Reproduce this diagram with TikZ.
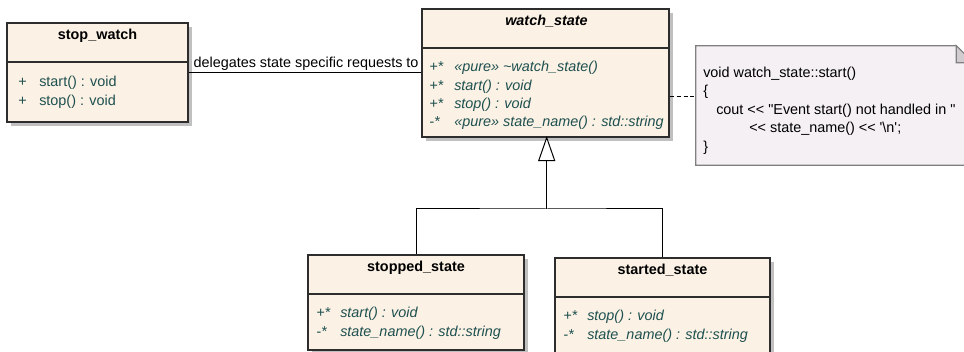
\documentclass[tikz,border=0pt]{standalone}
\usepackage{fontspec}
\setmainfont{Liberation Sans}
\usetikzlibrary{shadows}

\definecolor{classfill}{RGB}{251,241,228}
\definecolor{classline}{RGB}{45,45,45}
\definecolor{membertext}{RGB}{30,80,80}
\definecolor{notefill}{RGB}{244,240,244}
\definecolor{noteline}{RGB}{128,128,128}
\definecolor{foldfill}{RGB}{208,204,208}
\definecolor{shadowc}{RGB}{192,192,192}

% a pair of "<" characters kept apart from the TeX ligature mapping
\newcommand{\shl}{\textless\kern0pt\textless}

\tikzset{
  classbox/.style={draw=classline, line width=1pt, fill=classfill, inner sep=0pt,
    drop shadow={shadow xshift=3pt, shadow yshift=-3pt, opacity=1, fill=shadowc}},
  divider/.style={draw=classline, line width=1pt},
  ctitle/.style={anchor=base, inner sep=0pt, font=\fontsize{10.8}{13}\selectfont\bfseries},
  atitle/.style={anchor=base, inner sep=0pt, font=\fontsize{10.8}{13}\selectfont\bfseries\itshape},
  member/.style={anchor=base west, inner sep=0pt, text=membertext},
  amember/.style={member, font=\fontsize{10.8}{13}\selectfont\itshape},
  codeline/.style={anchor=base west, inner sep=0pt},
  link/.style={draw=black, line width=0.75pt},
  notelink/.style={draw=black, line width=0.75pt, dash pattern=on 3pt off 2.2pt},
}

\begin{document}
\begin{tikzpicture}[x=0.75pt, y=-0.75pt, font=\fontsize{10.8}{13}\selectfont]
\useasboundingbox (0,0) rectangle (964,352);
\clip (0,0) rectangle (964,352);

% ---- class stop_watch ----
\node[classbox, minimum width=135.75pt, minimum height=74.25pt] (sw) at (97.5,72.5) {};
\draw[divider] (sw.west |- 0,62) -- (sw.east |- 0,62);
\node[ctitle] (swt) at (97.5,40) {stop\_watch};
\node[member] (sw1v) at (18,86.7) {+};
\node[member] (sw1) at (39,86.7) {start() : void};
\node[member] (sw2v) at (18,105.5) {+};
\node[member] (sw2) at (39,105.5) {stop() : void};

% ---- abstract class watch_state ----
\node[classbox, minimum width=185.25pt, minimum height=96pt] (ws) at (545.5,73) {};
\draw[divider] (ws.west |- 0,48) -- (ws.east |- 0,48);
\node[atitle] (wst) at (546.5,26) {watch\_state};
\node[amember] (ws1v) at (429,72) {+*};
\node[amember] (ws1) at (454,72) {«pure» \textasciitilde watch\_state()};
\node[amember] (ws2v) at (429,90.3) {+*};
\node[amember] (ws2) at (454,90.3) {start() : void};
\node[amember] (ws3v) at (429,108.6) {+*};
\node[amember] (ws3) at (454,108.6) {stop() : void};
\node[amember] (ws4v) at (429,127) {-*};
\node[amember] (ws4) at (454,127) {«pure» state\_name() : std::string};

% ---- class stopped_state ----
\node[classbox, minimum width=162pt, minimum height=71.25pt] (sp) at (416,302.5) {};
\draw[divider] (sp.west |- 0,294) -- (sp.east |- 0,294);
\node[ctitle] (spt) at (416,271.7) {stopped\_state};
\node[amember] (sp1v) at (316,317.5) {+*};
\node[amember] (sp1) at (340,317.5) {start() : void};
\node[amember] (sp2v) at (316,336.5) {-*};
\node[amember] (sp2) at (340,336.5) {state\_name() : std::string};

% ---- class started_state ----
\node[classbox, minimum width=161.25pt, minimum height=74.25pt] (st) at (662.5,307.5) {};
\draw[divider] (st.west |- 0,297) -- (st.east |- 0,297);
\node[ctitle] (stt) at (662.5,274.7) {started\_state};
\node[amember] (st1v) at (563,321) {+*};
\node[amember] (st1) at (587,321) {stop() : void};
\node[amember] (st2v) at (563,340) {-*};
\node[amember] (st2) at (587,340) {state\_name() : std::string};

% ---- note with folded corner ----
\node[inner sep=0pt, minimum width=207.75pt, minimum height=89.25pt] (note) at (834.5,105.5) {};
\draw[draw=noteline, fill=notefill, line width=0.8pt]
  (note.north west) -- ([shift={(-17,0)}]note.north east) -- ([shift={(0,17)}]note.north east)
  -- (note.south east) -- (note.south west) -- cycle;
\draw[draw=noteline, fill=foldfill, line width=0.8pt]
  ([shift={(-17,0)}]note.north east) -- ([shift={(-17,17)}]note.north east)
  -- ([shift={(0,17)}]note.north east) -- cycle;
\node[codeline] (c1) at (703,77.5) {void watch\_state::start()};
\node[codeline] (c2) at (703,96) {\{};
\node[codeline] (c3) at (716,114.5) {cout \shl{} \textquotedbl Event start() not handled in \textquotedbl};
\node[codeline] (c4) at (749,133) {\shl{} state\_name() \shl{} \textquotesingle\textbackslash n\textquotesingle;};
\node[codeline] (c5) at (703,151.5) {\}};

% ---- association ----
\draw[link] (sw.east) -- (sw.east -| ws.west);
\node[codeline] (deleg) at (193.3,67.3) {delegates state specific requests to};

% ---- note attachment ----
\draw[notelink] (ws.east |- 0,97) -- (note.west |- 0,97);

% ---- generalization ----
\coordinate (gtip) at ([xshift=0.9pt]ws.south);
\coordinate (gbase) at ([shift={(0,23)}]gtip);
\coordinate (gbar) at (gbase |- 0,209);
\draw[link] (sp.north) |- (gbar) -| (st.north);
\draw[link] (gbar) -- (gbase);
\draw[link, fill=white] (gtip) -- ([shift={(-8,0)}]gbase) -- ([shift={(8,0)}]gbase) -- cycle;
\end{tikzpicture}
\end{document}
